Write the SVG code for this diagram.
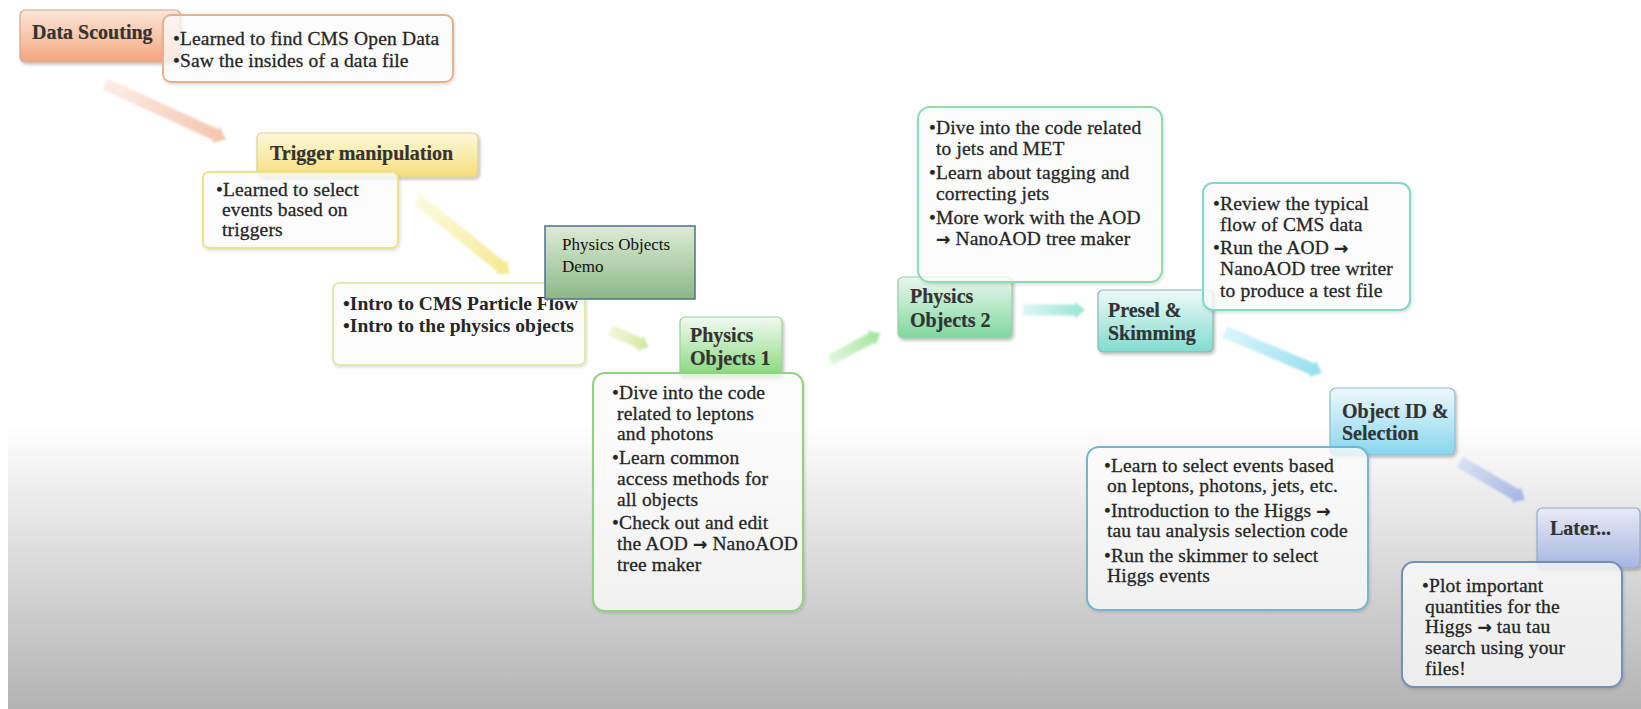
<svg xmlns="http://www.w3.org/2000/svg" width="1641" height="709" viewBox="0 0 1641 709">
<defs>
<style>
.h{font-family:"Liberation Serif",serif;font-weight:bold;font-size:20px;fill:#333;stroke:#333;stroke-width:0.2}
.b{font-family:"Liberation Serif","DejaVu Serif",serif;font-size:19.5px;fill:#262626;stroke:#262626;stroke-width:0.3;letter-spacing:0.15px}
.bb{font-family:"Liberation Serif","DejaVu Serif",serif;font-weight:bold;font-size:19.5px;fill:#262626}
.d{font-family:"Liberation Serif",serif;font-size:17px;fill:#111}
.ar2{font-family:"DejaVu Sans",sans-serif;font-weight:bold;font-size:17px}
.hb{stroke-width:1.2;filter:url(#sh)}
.bx{fill:#fff;fill-opacity:0.75;stroke-width:2;filter:url(#sh2)}
.ar{filter:url(#bl)}
</style>
<linearGradient id="bg" x1="0" y1="0" x2="0" y2="1"><stop offset="0.6" stop-color="#fff"/><stop offset="1" stop-color="#b3b3b3"/></linearGradient>
<linearGradient id="gOr" x1="0" y1="0" x2="0" y2="1"><stop offset="0" stop-color="#fde6d8"/><stop offset="1" stop-color="#f3a67f"/></linearGradient>
<linearGradient id="gYe" x1="0" y1="0" x2="0" y2="1"><stop offset="0" stop-color="#fdf8dc"/><stop offset="1" stop-color="#f5df7c"/></linearGradient>
<linearGradient id="gDemo" x1="0" y1="0" x2="0" y2="1"><stop offset="0" stop-color="#dcecd6"/><stop offset="1" stop-color="#8cb886"/></linearGradient>
<linearGradient id="gG1" x1="0" y1="0" x2="0" y2="1"><stop offset="0" stop-color="#f2faf0"/><stop offset="1" stop-color="#86d87c"/></linearGradient>
<linearGradient id="gG2" x1="0" y1="0" x2="0" y2="1"><stop offset="0" stop-color="#eaf7ee"/><stop offset="1" stop-color="#7fd89e"/></linearGradient>
<linearGradient id="gTe" x1="0" y1="0" x2="0" y2="1"><stop offset="0" stop-color="#effaf7"/><stop offset="1" stop-color="#80dcce"/></linearGradient>
<linearGradient id="gBl" x1="0" y1="0" x2="0" y2="1"><stop offset="0" stop-color="#eef8fc"/><stop offset="1" stop-color="#88d6ee"/></linearGradient>
<linearGradient id="gPu" x1="0" y1="0" x2="0" y2="1"><stop offset="0" stop-color="#e8eaf5"/><stop offset="1" stop-color="#a6b6e2"/></linearGradient>
<linearGradient id="a1" x1="0" y1="0" x2="1" y2="0"><stop offset="0" stop-color="#f6c4ac" stop-opacity="0.3"/><stop offset="1" stop-color="#f6c4ac"/></linearGradient>
<linearGradient id="a2" x1="0" y1="0" x2="1" y2="0"><stop offset="0" stop-color="#f7ef9c" stop-opacity="0.3"/><stop offset="1" stop-color="#f5e98e"/></linearGradient>
<linearGradient id="a3" x1="0" y1="0" x2="1" y2="0"><stop offset="0" stop-color="#dfeaa8" stop-opacity="0.4"/><stop offset="1" stop-color="#d2e6a0"/></linearGradient>
<linearGradient id="a4" x1="0" y1="0" x2="1" y2="0"><stop offset="0" stop-color="#b0eaa8" stop-opacity="0.4"/><stop offset="1" stop-color="#a0e49a"/></linearGradient>
<linearGradient id="a5" x1="0" y1="0" x2="1" y2="0"><stop offset="0" stop-color="#a8eadc" stop-opacity="0.4"/><stop offset="1" stop-color="#9ae4d0"/></linearGradient>
<linearGradient id="a6" x1="0" y1="0" x2="1" y2="0"><stop offset="0" stop-color="#a0e6f2" stop-opacity="0.4"/><stop offset="1" stop-color="#94def0"/></linearGradient>
<linearGradient id="a7" x1="0" y1="0" x2="1" y2="0"><stop offset="0" stop-color="#b0c0ea" stop-opacity="0.4"/><stop offset="1" stop-color="#a4b6e6"/></linearGradient>
<filter id="sh" x="-20%" y="-20%" width="140%" height="150%"><feDropShadow dx="1.5" dy="2" stdDeviation="1.5" flood-color="#000" flood-opacity="0.25"/></filter>
<filter id="sh2" x="-10%" y="-10%" width="120%" height="125%"><feDropShadow dx="1" dy="1.5" stdDeviation="1.5" flood-color="#000" flood-opacity="0.15"/></filter>
<filter id="bl" x="-20%" y="-50%" width="140%" height="200%"><feGaussianBlur stdDeviation="1.2"/></filter>
</defs>
<rect x="0" y="0" width="1641" height="709" fill="#fff"/>
<rect x="8" y="0" width="1633" height="709" fill="url(#bg)"/>

<g id="connectors">
<path class="ar" fill="url(#a1)" transform="translate(105,84) rotate(24.6)" d="M0,-6 L122,-6 L122,-9 L133,0 L122,9 L122,6 L0,6 Z"/>
<path class="ar" fill="url(#a2)" transform="translate(417,199) rotate(38.9)" d="M0,-6 L108,-6 L108,-9 L119,0 L108,9 L108,6 L0,6 Z"/>
<path class="ar" fill="url(#a3)" transform="translate(610,330) rotate(24)" d="M0,-5.5 L33,-5.5 L33,-8.5 L42,0 L33,8.5 L33,5.5 L0,5.5 Z"/>
<path class="ar" fill="url(#a4)" transform="translate(830,360) rotate(-28)" d="M0,-5.5 L47,-5.5 L47,-8.5 L57,0 L47,8.5 L47,5.5 L0,5.5 Z"/>
<path class="ar" fill="url(#a5)" transform="translate(1023,310) rotate(0)" d="M0,-5.5 L52,-5.5 L52,-8.5 L62,0 L52,8.5 L52,5.5 L0,5.5 Z"/>
<path class="ar" fill="url(#a6)" transform="translate(1225,332) rotate(22.9)" d="M0,-6 L95,-6 L95,-9 L105,0 L95,9 L95,6 L0,6 Z"/>
<path class="ar" fill="url(#a7)" transform="translate(1460,462) rotate(30.3)" d="M0,-6 L65,-6 L65,-9 L75,0 L65,9 L65,6 L0,6 Z"/>
</g>

<g id="data-scouting">
<rect class="hb" x="20" y="10" width="160" height="52" rx="5" fill="url(#gOr)" stroke="#d2a896"/>
<text class="h" x="32" y="39">Data Scouting</text>
</g>
<g id="data-scouting-notes">
<rect class="bx" x="163" y="15" width="290" height="67" rx="8" stroke="#e8b08a"/>
<text class="b" x="173" y="45">•Learned to find CMS Open Data</text>
<text class="b" x="173" y="67">•Saw the insides of a data file</text>
</g>

<g id="trigger">
<rect class="hb" x="257" y="133" width="221" height="44" rx="5" fill="url(#gYe)" stroke="#dcd296"/>
<text class="h" x="270" y="160">Trigger manipulation</text>
</g>
<g id="trigger-notes">
<rect class="bx" x="203" y="172" width="195" height="76" rx="6" stroke="#ece38c"/>
<text class="b" x="216" y="196">•Learned to select</text>
<text class="b" x="222" y="216">events based on</text>
<text class="b" x="222" y="236">triggers</text>
</g>

<g id="intro">
<rect class="bx" x="333" y="283" width="252" height="82" rx="6" stroke="#e3e8ae"/>
<text class="bb" x="343" y="310">•Intro to CMS Particle Flow</text>
<text class="bb" x="343" y="332">•Intro to the physics objects</text>
</g>

<g id="physics-objects-1">
<rect class="hb" x="680" y="317" width="102" height="60" rx="5" fill="url(#gG1)" stroke="#a4cca0"/>
<text class="h" x="690" y="342">Physics</text>
<text class="h" x="690" y="365">Objects 1</text>
</g>
<g id="physics-objects-1-notes">
<rect class="bx" x="593" y="373" width="210" height="238" rx="12" stroke="#90d282"/>
<text class="b" x="612" y="399">•Dive into the code</text>
<text class="b" x="617" y="420">related to leptons</text>
<text class="b" x="617" y="440">and photons</text>
<text class="b" x="612" y="464">•Learn common</text>
<text class="b" x="617" y="485">access methods for</text>
<text class="b" x="617" y="506">all objects</text>
<text class="b" x="612" y="529">•Check out and edit</text>
<text class="b" x="617" y="550">the AOD <tspan class="ar2">→</tspan> NanoAOD</text>
<text class="b" x="617" y="571">tree maker</text>
</g>

<g id="physics-objects-demo">
<rect x="545" y="226" width="150" height="73" fill="url(#gDemo)" stroke="#50708e" stroke-width="1.5"/>
<text class="d" x="562" y="250">Physics Objects</text>
<text class="d" x="562" y="272">Demo</text>
</g>

<g id="physics-objects-2">
<rect class="hb" x="898" y="277" width="114" height="61" rx="5" fill="url(#gG2)" stroke="#98cca8"/>
<text class="h" x="910" y="303">Physics</text>
<text class="h" x="910" y="327">Objects 2</text>
</g>
<g id="physics-objects-2-notes">
<rect class="bx" x="918" y="107" width="244" height="175" rx="12" stroke="#8cdcb2"/>
<text class="b" x="929" y="134">•Dive into the code related</text>
<text class="b" x="936" y="155">to jets and MET</text>
<text class="b" x="929" y="179">•Learn about tagging and</text>
<text class="b" x="936" y="200">correcting jets</text>
<text class="b" x="929" y="224">•More work with the AOD</text>
<text class="b" x="936" y="245"><tspan class="ar2">→</tspan> NanoAOD tree maker</text>
</g>

<g id="presel">
<rect class="hb" x="1098" y="290" width="115" height="62" rx="5" fill="url(#gTe)" stroke="#88b8b0"/>
<text class="h" x="1108" y="317">Presel &amp;</text>
<text class="h" x="1108" y="340">Skimming</text>
</g>
<g id="presel-notes">
<rect class="bx" x="1203" y="183" width="207" height="127" rx="10" stroke="#84d8ca"/>
<text class="b" x="1213" y="210">•Review the typical</text>
<text class="b" x="1220" y="231">flow of CMS data</text>
<text class="b" x="1213" y="254">•Run the AOD <tspan class="ar2">→</tspan></text>
<text class="b" x="1220" y="275">NanoAOD tree writer</text>
<text class="b" x="1220" y="297">to produce a test file</text>
</g>

<g id="object-id">
<rect class="hb" x="1330" y="388" width="125" height="67" rx="6" fill="url(#gBl)" stroke="#90bcd0"/>
<text class="h" x="1342" y="418">Object ID &amp;</text>
<text class="h" x="1342" y="440">Selection</text>
</g>
<g id="object-id-notes">
<rect class="bx" x="1087" y="447" width="281" height="163" rx="12" stroke="#70b8d0"/>
<text class="b" x="1104" y="472">•Learn to select events based</text>
<text class="b" x="1107" y="492">on leptons, photons, jets, etc.</text>
<text class="b" x="1104" y="517">•Introduction to the Higgs <tspan class="ar2">→</tspan></text>
<text class="b" x="1107" y="537">tau tau analysis selection code</text>
<text class="b" x="1104" y="562">•Run the skimmer to select</text>
<text class="b" x="1107" y="582">Higgs events</text>
</g>

<g id="later">
<rect class="hb" x="1537" y="508" width="103" height="60" rx="5" fill="url(#gPu)" stroke="#98a8c8"/>
<text class="h" x="1550" y="535">Later...</text>
</g>
<g id="later-notes">
<rect class="bx" x="1402" y="562" width="220" height="125" rx="12" stroke="#7290b8"/>
<text class="b" x="1422" y="592">•Plot important</text>
<text class="b" x="1425" y="613">quantities for the</text>
<text class="b" x="1425" y="633">Higgs <tspan class="ar2">→</tspan> tau tau</text>
<text class="b" x="1425" y="654">search using your</text>
<text class="b" x="1425" y="675">files!</text>
</g>
</svg>
